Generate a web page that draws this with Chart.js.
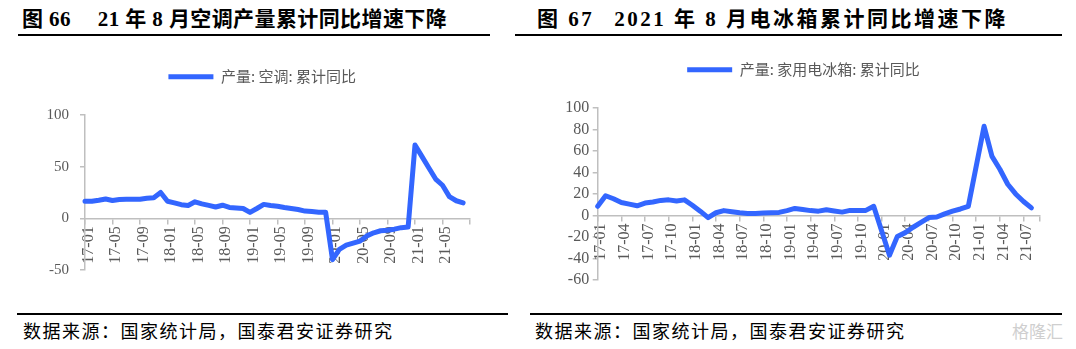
<!DOCTYPE html>
<html>
<head>
<meta charset="utf-8">
<script src="https://cdn.jsdelivr.net/npm/chart.js@4.4.0/dist/chart.umd.min.js"></script>
<style>
  body { margin: 0; width: 1076px; height: 349px; background: #fff; position: relative; overflow: hidden;
         font-family: "Liberation Serif", "Noto Sans CJK SC", serif; }
  .title { position: absolute; top: 7px; font-size: 21px; font-weight: bold; white-space: pre; line-height: 24px; color: #000; }
  .rule { position: absolute; height: 2px; background: #000; }
  .src { position: absolute; top: 317px; font-size: 18px; line-height: 26px; letter-spacing: 1.5px;
         font-family: "Noto Sans CJK SC", sans-serif; color: #000; }
  .mark { position: absolute; left: 1012px; top: 318px; font-size: 17px; color: #cfcfcf; font-family: "Noto Sans CJK SC", sans-serif; }
  canvas { position: absolute; }
</style>
</head>
<body>
<div class="title" style="left:22px;letter-spacing:0.4px">图 66<span style="margin-left:27px">21 年 8 月空调产量累计同比增速下降</span></div>
<div class="title" style="left:537px;letter-spacing:2.5px">图 67<span style="margin-left:20px">2021 年 8 月电冰箱累计同比增速下降</span></div>
<div class="rule" style="left:18px;width:472px;top:34px"></div>
<div class="rule" style="left:515px;width:547px;top:34px"></div>

<canvas id="acChart" width="530" height="250" style="left:0;top:40px"></canvas>
<canvas id="fridgeChart" width="540" height="260" style="left:536px;top:33px"></canvas>

<div class="rule" style="left:17px;width:491px;top:313px"></div>
<div class="rule" style="left:530px;width:532px;top:313px"></div>
<div class="src" style="left:23px">数据来源：国家统计局，国泰君安证券研究</div>
<div class="src" style="left:535px">数据来源：国家统计局，国泰君安证券研究</div>
<div class="mark">格隆汇</div>

<script>
// 月份（17-01 ~ 21-08）
const months = [
  '17-01','17-02','17-03','17-04','17-05','17-06','17-07','17-08','17-09','17-10','17-11','17-12',
  '18-01','18-02','18-03','18-04','18-05','18-06','18-07','18-08','18-09','18-10','18-11','18-12',
  '19-01','19-02','19-03','19-04','19-05','19-06','19-07','19-08','19-09','19-10','19-11','19-12',
  '20-01','20-02','20-03','20-04','20-05','20-06','20-07','20-08','20-09','20-10','20-11','20-12',
  '21-01','21-02','21-03','21-04','21-05','21-06','21-07','21-08'
];

// 产量:空调:累计同比 (%)
const acYoY = [
  16.5, 16.5, 17.5, 18.7, 17.3, 18.2, 18.4, 18.4, 18.5, 19.5, 20, 25,
  16.5, 15, 13.2, 12.5, 16, 14, 12.5, 11, 12.7, 10.5, 10, 9.5,
  5.7, 9.5, 13.5, 12.5, 11.7, 10.5, 9.5, 8.5, 7, 6.5, 6, 6,
  -40, -30, -26, -24, -22, -17, -14, -12, -11.5, -10.5, -9, -8.5,
  71, 60, 49, 38, 32, 21, 17, 15
];

// 产量:家用电冰箱:累计同比 (%)，1月无数据
const fridgeYoY = [
  8.5, 18.3, 15.5, 12, 10.5, 9, 11.5, 12.5, 14, 14.5, 13.5, 14.5,
  9.5, 4, -2, 2.5, 4.5, 3.5, 2.5, 1.8, 1.8, 2.2, 2.5, 2.8,
  4.5, 6.5, 5.5, 4.5, 4, 5.3, 4.2, 3.1, 4.7, 4.5, 4.7, 8.5,
  null, -37, -19.5, -16, -11, -6.5, -2, -1.5, 1.5, 4, 6, 8.5,
  null, 83, 55, 43, 29, 20, 13, 7
];

const BLUE  = '#3366ff';
const AXIS  = '#bfbfbf';
const LABEL = '#595959';

// legenda: više mesta ispod nje i mali pomak udesno
const legendPlace = {
  id: 'legendPlace',
  beforeInit(chart, args, opts) {
    const legend = chart.legend;
    const fit = legend.fit;
    const draw = legend.draw;
    legend.fit = function () {
      fit.call(this);
      this.height += opts.extra;
    };
    legend.draw = function () {
      this.ctx.save();
      this.ctx.translate(opts.dx, 0);
      draw.call(this);
      this.ctx.restore();
    };
  }
};

function makeChart(id, cfg) {
  return new Chart(document.getElementById(id), {
    type: 'line',
    data: {
      labels: months.concat(['']),
      datasets: [{
        label: cfg.label,
        data: cfg.values,
        borderColor: BLUE,
        backgroundColor: BLUE,
        borderWidth: 5,
        pointRadius: 0,
        tension: 0,
        borderCapStyle: 'round',
        borderJoinStyle: 'round',
        spanGaps: true,
        clip: false
      }]
    },
    options: {
      responsive: false,
      animation: false,
      layout: { padding: cfg.padding },
      plugins: {
        tooltip: { enabled: false },
        legendPlace: { extra: 20.8, dx: cfg.legendDx },
        legend: {
          labels: {
            usePointStyle: true,
            pointStyle: 'line',
            pointStyleWidth: 45,
            padding: 10,
            color: LABEL,
            font: { family: 'Noto Sans CJK SC', size: 15 }
          }
        }
      },
      scales: {
        x: {
          position: { y: 0 },
          offset: false,
          grid: { drawOnChartArea: false, tickLength: 5, color: AXIS, lineWidth: 1.5 },
          border: { color: AXIS, width: 1.5 },
          ticks: {
            autoSkip: false,
            minRotation: 90,
            maxRotation: 90,
            padding: 3,
            labelOffset: 3.5,
            color: LABEL,
            font: { family: 'Liberation Serif', size: 16 },
            callback: (v, i) => {
              if (i === months.length) return '';
              return i % cfg.every === 0 ? months[i] : null;
            }
          }
        },
        y: {
          min: cfg.min,
          max: cfg.max,
          afterFit: s => { s.width = cfg.yWidth; },
          grid: { drawOnChartArea: false, tickLength: 5, color: AXIS, lineWidth: 1.5 },
          border: { color: AXIS, width: 1.5 },
          ticks: {
            stepSize: cfg.step,
            autoSkip: false,
            padding: cfg.yPad,
            color: LABEL,
            font: { family: 'Liberation Serif', size: cfg.yFont }
          }
        }
      }
    },
    plugins: [legendPlace]
  });
}

makeChart('acChart', {
  label: '产量: 空调: 累计同比',
  values: acYoY,
  every: 4,
  min: -50, max: 100, step: 50,
  yWidth: 45, yPad: 11, yFont: 15,
  legendDx: 7.2,
  padding: { top: 19.2, left: 40, right: 60, bottom: 17.5 }
});

makeChart('fridgeChart', {
  label: '产量: 家用电冰箱: 累计同比',
  values: fridgeYoY,
  every: 3,
  min: -60, max: 100, step: 20,
  yWidth: 39.7, yPad: 3.5, yFont: 16,
  legendDx: 4.8,
  padding: { top: 19.2, left: 22, right: 36.7, bottom: 13 }
});
</script>
</body>
</html>
